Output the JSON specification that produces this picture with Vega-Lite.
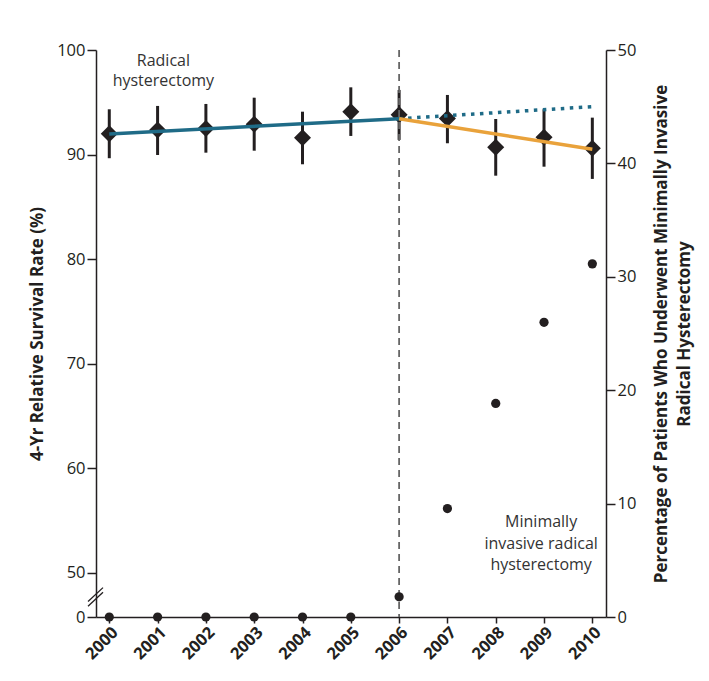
{
  "$schema": "https://vega.github.io/schema/vega-lite/v6.json",
  "width": 510,
  "height": 567,
  "autosize": {"type": "none"},
  "padding": {"left": 96, "top": 50, "right": 103, "bottom": 64},
  "background": "white",
  "config": {
    "font": "Open Sans",
    "view": {"stroke": null},
    "axis": {
      "domainColor": "#231f20",
      "domainWidth": 1.5,
      "tickColor": "#231f20",
      "tickWidth": 1.5,
      "labelColor": "#231f20",
      "labelFontSize": 16.5,
      "grid": false,
      "titleColor": "#231f20",
      "titleFontWeight": "bold",
      "titleFontSize": 17
    }
  },
  "datasets": {
    "surv": [
      {"year": 2000, "rate": 92.0, "lo": 89.65, "hi": 94.33},
      {"year": 2001, "rate": 92.35, "lo": 89.96, "hi": 94.65},
      {"year": 2002, "rate": 92.5, "lo": 90.18, "hi": 94.84},
      {"year": 2003, "rate": 92.9, "lo": 90.37, "hi": 95.44},
      {"year": 2004, "rate": 91.6, "lo": 89.07, "hi": 94.1},
      {"year": 2005, "rate": 94.1, "lo": 91.78, "hi": 96.43},
      {"year": 2006, "rate": 93.8, "lo": 91.4, "hi": 96.18},
      {"year": 2007, "rate": 93.45, "lo": 91.08, "hi": 95.7},
      {"year": 2008, "rate": 90.7, "lo": 87.98, "hi": 93.4},
      {"year": 2009, "rate": 91.65, "lo": 88.84, "hi": 94.33},
      {"year": 2010, "rate": 90.6, "lo": 87.67, "hi": 93.53}
    ],
    "trend": [
      {"series": "radical", "year": 2000, "value": 91.97},
      {"series": "radical", "year": 2006, "value": 93.43},
      {"series": "expected", "year": 2006, "value": 93.43},
      {"series": "expected", "year": 2010, "value": 94.58},
      {"series": "observed", "year": 2006, "value": 93.43},
      {"series": "observed", "year": 2010, "value": 90.5}
    ],
    "mirh": [
      {"year": 2000, "pct": 0},
      {"year": 2001, "pct": 0},
      {"year": 2002, "pct": 0},
      {"year": 2003, "pct": 0},
      {"year": 2004, "pct": 0},
      {"year": 2005, "pct": 0},
      {"year": 2006, "pct": 1.78},
      {"year": 2007, "pct": 9.56},
      {"year": 2008, "pct": 18.83},
      {"year": 2009, "pct": 25.99},
      {"year": 2010, "pct": 31.14}
    ],
    "one": [{}]
  },
  "layer": [
    {
      "layer": [
        {
          "data": {"name": "surv"},
          "mark": {"type": "rule", "strokeWidth": 3, "color": "#231f20"},
          "encoding": {
            "x": {
              "field": "year", "type": "quantitative",
              "scale": {"domain": [1999.725, 2010.283], "nice": false, "zero": false},
              "axis": {
                "title": null, "values": [2000, 2001, 2002, 2003, 2004, 2005, 2006, 2007, 2008, 2009, 2010],
                "format": "d", "labelAngle": -45, "labelFontWeight": "bold", "labelFontSize": 16.5,
                "tickSize": 6, "labelPadding": 1, "labelAlign": "right", "labelBaseline": "top"
              }
            },
            "y": {
              "field": "lo", "type": "quantitative",
              "scale": {"domain": [45.77, 100], "nice": false, "zero": false},
              "axis": {
                "title": "4-Yr Relative Survival Rate (%)",
                "values": [45.77, 50, 60, 70, 80, 90, 100],
                "labelExpr": "datum.value < 46 ? '0' : format(datum.value, 'd')",
                "tickSize": 9, "labelPadding": 2, "titlePadding": 10
              }
            },
            "y2": {"field": "hi"}
          }
        },
        {
          "data": {"name": "surv"},
          "mark": {"type": "point", "shape": "diamond", "filled": true, "size": 290, "color": "#231f20", "opacity": 1},
          "encoding": {
            "x": {"field": "year", "type": "quantitative"},
            "y": {"field": "rate", "type": "quantitative"}
          }
        },
        {
          "data": {"name": "trend"},
          "transform": [{"filter": "datum.series === 'radical'"}],
          "mark": {"type": "line", "color": "#1f6b87", "strokeWidth": 3.5},
          "encoding": {
            "x": {"field": "year", "type": "quantitative"},
            "y": {"field": "value", "type": "quantitative"}
          }
        },
        {
          "data": {"name": "trend"},
          "transform": [{"filter": "datum.series === 'expected'"}],
          "mark": {"type": "line", "color": "#1f6b87", "strokeWidth": 3.5, "strokeDash": [3.5, 5.5], "strokeCap": "butt"},
          "encoding": {
            "x": {"field": "year", "type": "quantitative"},
            "y": {"field": "value", "type": "quantitative"}
          }
        },
        {
          "data": {"name": "trend"},
          "transform": [{"filter": "datum.series === 'observed'"}],
          "mark": {"type": "line", "color": "#e9a23b", "strokeWidth": 3.5},
          "encoding": {
            "x": {"field": "year", "type": "quantitative"},
            "y": {"field": "value", "type": "quantitative"}
          }
        },
        {
          "data": {"name": "one"},
          "mark": {"type": "rule", "color": "#666666", "strokeWidth": 1.8, "strokeDash": [7, 5]},
          "encoding": {"x": {"datum": 2006, "type": "quantitative"}}
        },
        {
          "data": {"name": "one"},
          "mark": {"type": "text", "text": ["Radical", "hysterectomy"], "fontSize": 16, "color": "#333333", "lineHeight": 20, "align": "center", "baseline": "middle"},
          "encoding": {
            "x": {"datum": 2001.12, "type": "quantitative"},
            "y": {"datum": 98.96, "type": "quantitative"}
          }
        },
        {
          "data": {"name": "one"},
          "mark": {"type": "rule", "color": "#231f20", "strokeWidth": 1.3},
          "encoding": {
            "x": {"datum": 1999.56, "type": "quantitative"},
            "x2": {"datum": 1999.87},
            "y": {"datum": 46.8, "type": "quantitative"},
            "y2": {"datum": 48.13}
          }
        },
        {
          "data": {"name": "one"},
          "mark": {"type": "rule", "color": "#231f20", "strokeWidth": 1.3},
          "encoding": {
            "x": {"datum": 1999.56, "type": "quantitative"},
            "x2": {"datum": 1999.87},
            "y": {"datum": 47.25, "type": "quantitative"},
            "y2": {"datum": 48.58}
          }
        }
      ]
    },
    {
      "layer": [
        {
          "data": {"name": "mirh"},
          "mark": {"type": "circle", "size": 85, "color": "#231f20", "opacity": 1, "clip": false},
          "encoding": {
            "x": {"field": "year", "type": "quantitative"},
            "y": {
              "field": "pct", "type": "quantitative",
              "scale": {"domain": [0, 50], "nice": false},
              "axis": {
                "orient": "right",
                "title": ["Percentage of Patients Who Underwent Minimally Invasive", "Radical Hysterectomy"],
                "titleAngle": 270,
                "titleLineHeight": 23,
                "values": [0, 10, 20, 30, 40, 50],
                "tickSize": 9, "labelPadding": 2, "titlePadding": 12
              }
            }
          }
        },
        {
          "data": {"name": "one"},
          "mark": {"type": "text", "text": ["Minimally", "invasive radical", "hysterectomy"], "fontSize": 16, "color": "#333333", "lineHeight": 21.5, "align": "center", "baseline": "middle"},
          "encoding": {
            "x": {"datum": 2008.94, "type": "quantitative"},
            "y": {"datum": 8.35, "type": "quantitative"}
          }
        }
      ]
    }
  ],
  "resolve": {"scale": {"y": "independent"}}
}
